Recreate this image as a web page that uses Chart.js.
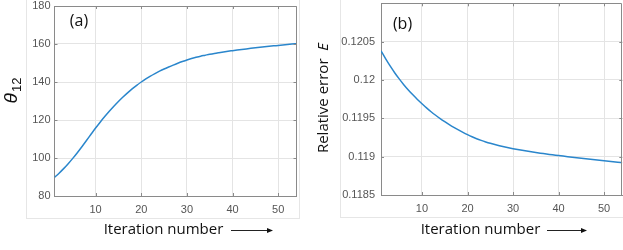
<!DOCTYPE html>
<html><head><meta charset="utf-8">
<script src="https://cdn.jsdelivr.net/npm/chart.js@4.4.1/dist/chart.umd.min.js"></script>
<style>
html,body{margin:0;padding:0;background:#fff;width:623px;height:250px;overflow:hidden;position:relative}
canvas{position:absolute}
.frame{position:absolute;box-sizing:border-box;border:1px solid #e6e6e6;}
</style></head><body>
<div class="frame" style="left:26px;top:-2px;width:274px;height:221px"></div>
<div class="frame" style="left:340px;top:-2px;width:290px;height:220px"></div>
<canvas id="ca" width="300" height="250" style="left:0;top:0"></canvas>
<canvas id="cb" width="313" height="250" style="left:310px;top:0"></canvas>
<script>
// ---- data ----
const iterations = [1,2,3,4,5,6,7,8,9,10,11,12,13,14,15,16,17,18,19,20,21,22,23,24,25,26,27,28,29,30,31,32,33,34,35,36,37,38,39,40,41,42,43,44,45,46,47,48,49,50,51,52,53,54];
const theta12 = [89.8,92.0,94.4,97.0,99.8,102.8,105.95,109.2,112.5,115.75,118.85,121.8,124.6,127.25,129.75,132.1,134.3,136.35,138.25,140.0,141.6,143.1,144.45,145.7,146.85,147.9,148.9,149.85,150.75,151.6,152.35,153.0,153.6,154.1,154.6,155.05,155.45,155.83,156.18,156.5,156.82,157.13,157.43,157.72,158.0,158.27,158.53,158.78,159.02,159.25,159.49,159.72,159.94,160.15];
const relError = [0.120380,0.120278,0.120183,0.120095,0.120014,0.119939,0.119870,0.119806,0.119746,0.119690,0.119636,0.119586,0.119540,0.119497,0.119457,0.119419,0.119383,0.119349,0.119317,0.119287,0.119259,0.119234,0.119212,0.119192,0.119174,0.119158,0.119143,0.119129,0.119116,0.119104,0.119093,0.1190825,0.1190725,0.119063,0.119054,0.1190455,0.1190375,0.1190295,0.119022,0.1190145,0.1190071,0.1189998,0.1189926,0.1189856,0.1189787,0.1189719,0.1189652,0.1189586,0.1189521,0.1189457,0.1189394,0.1189332,0.1189271,0.1189211];
const xTicks = [10,20,30,40,50];
const yTicksA = [80,100,120,140,160,180];
const yTicksB = [0.1185,0.119,0.1195,0.12,0.1205];
const yTickLabelsB = ['0.1185','0.119','0.1195','0.12','0.1205'];

const TICKFONT = {family:'"Liberation Sans", Arial, sans-serif', size:11};
const TICKCOL = '#555';
const GRIDCOL = '#e4e4e4';
const AXCOL = '#8a8a8a';
const LINECOL = '#2a86cc';
const TEXTFONT = '"Open Sans", sans-serif';

const deco = {
  id:'deco',
  afterDraw(chart, args, o){
    const ctx = chart.ctx, a = chart.chartArea;
    const xs = chart.scales.x, ys = chart.scales.y;
    ctx.save();
    ctx.strokeStyle = AXCOL; ctx.lineWidth = 1;
    ctx.beginPath();
    ctx.moveTo(Math.round(a.left)+0.5, Math.round(a.top)+0.5);
    ctx.lineTo(Math.round(a.right)-0.5, Math.round(a.top)+0.5);
    ctx.lineTo(Math.round(a.right)-0.5, Math.round(a.bottom)+0.5);
    ctx.stroke();
    ctx.beginPath();
    ys.ticks.forEach(t=>{
      const p = Math.round(ys.getPixelForValue(t.value))+0.5;
      ctx.moveTo(a.left, p); ctx.lineTo(a.left+3, p);
      ctx.moveTo(a.right, p); ctx.lineTo(a.right-3, p);
    });
    xs.ticks.forEach(t=>{
      const p = Math.round(xs.getPixelForValue(t.value))+0.5;
      ctx.moveTo(p, a.bottom); ctx.lineTo(p, a.bottom-3);
      ctx.moveTo(p, a.top); ctx.lineTo(p, a.top+3);
    });
    ctx.stroke();
    ctx.fillStyle = '#111';
    ctx.font = '16px ' + TEXTFONT;
    ctx.textAlign = 'center'; ctx.textBaseline = 'middle';
    ctx.fillText(o.panel, o.panelX, o.panelY);
    ctx.font = '15px ' + TEXTFONT;
    ctx.fillText('Iteration number', o.xtX, o.xtY);
    ctx.strokeStyle = '#222'; ctx.lineWidth = 1;
    ctx.beginPath(); ctx.moveTo(o.arX1, o.xtY+0.5); ctx.lineTo(o.arX2-4, o.xtY+0.5); ctx.stroke();
    ctx.fillStyle = '#111';
    ctx.beginPath(); ctx.moveTo(o.arX2, o.xtY+0.5); ctx.lineTo(o.arX2-6, o.xtY-2); ctx.lineTo(o.arX2-6, o.xtY+3); ctx.closePath(); ctx.fill();
    ctx.translate(o.ytX, o.ytY); ctx.rotate(-Math.PI/2);
    ctx.textAlign = 'left'; ctx.textBaseline = 'alphabetic';
    if (o.kind === 'theta') {
      ctx.font = 'italic 19px "Liberation Sans", Arial, sans-serif';
      const w1 = ctx.measureText('θ').width;
      ctx.font = '13px "Liberation Sans", Arial, sans-serif';
      const w2 = ctx.measureText('12').width;
      const x0 = -(w1+w2)/2;
      ctx.font = 'italic 19px "Liberation Sans", Arial, sans-serif';
      ctx.fillText('θ', x0, 3);
      ctx.font = '13px "Liberation Sans", Arial, sans-serif';
      ctx.fillText('12', x0+w1+1, 7);
    } else {
      ctx.font = '15px ' + TEXTFONT;
      const s = 'Relative error  ';
      const w1 = ctx.measureText(s).width;
      ctx.font = 'italic 15px ' + TEXTFONT;
      const w2 = ctx.measureText('E').width;
      const x0 = -(w1+w2)/2;
      ctx.font = '15px ' + TEXTFONT;
      ctx.fillText(s, x0, 5);
      ctx.font = 'italic 15px ' + TEXTFONT;
      ctx.fillText('E', x0+w1, 5);
    }
    ctx.restore();
  }
};

function makeChart(id, yData, yMin, yMax, yTicks, yLabels, yWidth, xHeight, pad, yPad, decoOpts){
  const pts = iterations.map((x,i)=>({x:x, y:yData[i]}));
  return new Chart(document.getElementById(id), {
    type:'line',
    data:{datasets:[{data:pts, borderColor:LINECOL, borderWidth:1.5, pointRadius:0, cubicInterpolationMode:'monotone', fill:false}]},
    options:{
      responsive:false, animation:false, devicePixelRatio:1,
      layout:{padding:pad},
      plugins:{legend:{display:false}, tooltip:{enabled:false}, deco:decoOpts},
      scales:{
        x:{type:'linear', min:1, max:54,
          afterBuildTicks:s=>{s.ticks = xTicks.map(v=>({value:v}));},
          afterFit:s=>{s.height = xHeight; s.paddingLeft = 0; s.paddingRight = 0;},
          ticks:{font:TICKFONT, color:TICKCOL, padding:7, maxRotation:0, callback:v=>String(v)},
          grid:{color:GRIDCOL, drawTicks:false},
          border:{color:AXCOL}
        },
        y:{type:'linear', min:yMin, max:yMax,
          afterBuildTicks:s=>{s.ticks = yTicks.map(v=>({value:v}));},
          afterFit:s=>{s.width = yWidth; s.paddingTop = 0; s.paddingBottom = 0;},
          ticks:{font:TICKFONT, color:TICKCOL, padding:yPad, callback:(v)=>{const i=yTicks.indexOf(v); return i>=0 ? yLabels[i] : '';}},
          grid:{color:GRIDCOL, drawTicks:false},
          border:{color:AXCOL}
        }
      }
    },
    plugins:[deco]
  });
}

makeChart('ca', theta12, 80, 180, yTicksA, yTicksA.map(String), 54.5, 54,
  {left:0, top:6, right:3.5, bottom:0}, 4,
  {panel:'(a)', panelX:79, panelY:21, xtX:163.5, xtY:230, arX1:231, arX2:273, ytX:14, ytY:91, kind:'theta'});
makeChart('cb', relError, 0.1185, 0.121, yTicksB, yTickLabelsB, 71, 55,
  {left:0, top:3.3, right:0.7, bottom:0}, 6,
  {panel:'(b)', panelX:92.5, panelY:24, xtX:170.5, xtY:230, arX1:237, arX2:277, ytX:13, ytY:98, kind:'E'});
</script>
</body></html>
